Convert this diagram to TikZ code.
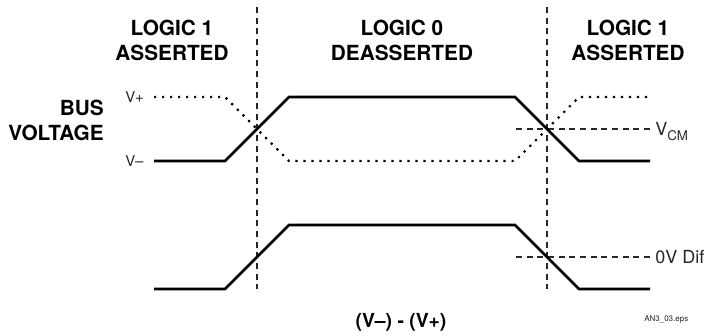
\documentclass[tikz,border=0pt]{standalone}
\usepackage{fontspec}
\setmainfont{TeX Gyre Heros}
\tikzset{
  wave/.style={line width=2.1pt,line join=miter,black},
  dotwave/.style={line width=1.6pt,black,line cap=butt,dash pattern=on 1.6pt off 4.4pt},
  guide/.style={line width=0.9pt,black!85,dash pattern=on 4.5pt off 3.5pt},
  ref/.style={line width=0.9pt,black!85,dash pattern=on 4.5pt off 3.5pt},
  head/.style={font=\fontsize{15.6}{18.8}\selectfont\bfseries,align=center,inner sep=0pt},
  lab/.style={font=\fontsize{11.2}{13}\selectfont,inner sep=0pt,text=black!85},
  small/.style={font=\fontsize{6}{7}\selectfont,inner sep=0pt,text=black!85}
}
\begin{document}
\begin{tikzpicture}[x=0.75pt,y=-0.75pt]
\useasboundingbox (0,0) rectangle (705,335);
\fill[white] (0,0) rectangle (705,335);
% guides
\coordinate (g1t) at (257,7); \coordinate (g1b) at (257,289);
\coordinate (g2t) at (547,7); \coordinate (g2b) at (547,289);
\draw[guide] (g1t) -- (g1b);
\draw[guide] (g2t) -- (g2b);
% levels
\coordinate (vcmS) at (516,129); \coordinate (vcmE) at (651,129);
\coordinate (difS) at (516,257); \coordinate (difE) at (651,257);
\draw[ref] (vcmS) -- (vcmE);
\draw[ref] (difS) -- (difE);
% top waveform
\coordinate (a0) at (154,161); \coordinate (a1) at (225,161); \coordinate (a2) at (289,97);
\coordinate (a3) at (515,97); \coordinate (a4) at (579,161); \coordinate (a5) at (650,161);
\draw[wave] (a0) -- (a1) -- (a2) -- (a3) -- (a4) -- (a5);
% dotted waveform
\coordinate (d0) at (154,97); \coordinate (d1) at (225,97); \coordinate (d2) at (289,161);
\coordinate (d3) at (515,161); \coordinate (d4) at (579,97); \coordinate (d5) at (652,97);
\draw[dotwave] (d0) -- (d1) -- (d2) -- (d3) -- (d4) -- (d5);
% bottom waveform
\coordinate (b0) at (154,289); \coordinate (b1) at (225,289); \coordinate (b2) at (289,225);
\coordinate (b3) at (515,225); \coordinate (b4) at (579,289); \coordinate (b5) at (650,289);
\draw[wave] (b0) -- (b1) -- (b2) -- (b3) -- (b4) -- (b5);
% text
\node[head] (h1) at (172,40) {LOGIC 1\\ASSERTED};
\node[head] (h2) at (402,40) {LOGIC 0\\DEASSERTED};
\node[head] (h3) at (628,40) {LOGIC 1\\ASSERTED};
\node[head,align=right,anchor=east] (bus) at (104,120.5) {BUS\\VOLTAGE};
\node[lab,anchor=west] (vp) at (125,97) {V+};
\node[lab,anchor=west] (vm) at (125,161) {V–};
\node[lab,anchor=base west,font=\fontsize{13.5}{15}\selectfont] (vcm) at (655,135) {V\raisebox{-0.28em}{\fontsize{10}{12}\selectfont CM}};
\node[lab,anchor=base west,font=\fontsize{13.5}{15}\selectfont] (dif) at (655,263) {0V Dif};
\node[head,font=\fontsize{14.5}{16}\selectfont\bfseries] (diff) at (401,322) {(V–) - (V+)};
\node[small,anchor=west] (eps) at (644,319.5) {AN3\_03.eps};
\end{tikzpicture}
\end{document}
